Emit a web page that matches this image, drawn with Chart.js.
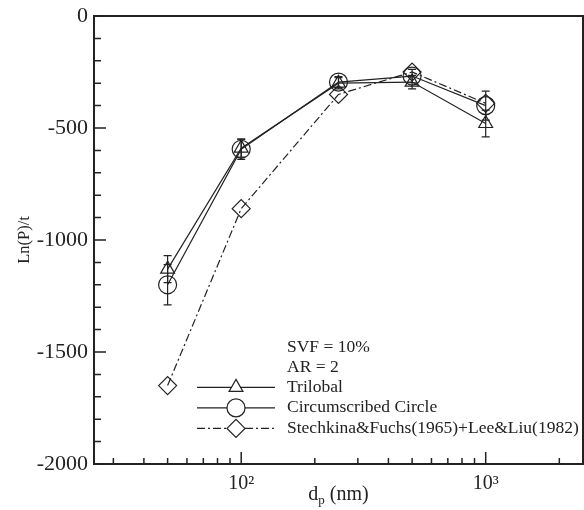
<!DOCTYPE html>
<html>
<head>
<meta charset="utf-8">
<script src="https://cdn.jsdelivr.net/npm/chart.js@4/dist/chart.umd.min.js"></script>
<style>
  html, body { margin: 0; padding: 0; background: #fff; }
  #wrap { width: 584px; height: 510px; }
</style>
</head>
<body>
<div id="wrap"><canvas id="filterChart"></canvas></div>
<script>
// particle diameter (nm)
const diameters = [50, 100, 250, 500, 1000];

// Ln(P)/t for each model
const trilobal = [-1130, -590, -300, -295, -480];
const trilobalErr = [60, 40, 25, 30, 60];
const circle = [-1200, -595, -295, -268, -400];
const circleErr = [90, 45, 25, 30, 65];
const stechkina = [-1650, -860, -350, -250, -390];

// axis ticks
const xTicks = [30, 40, 50, 60, 70, 80, 90, 100, 200, 300, 400, 500, 600, 700, 800, 900, 1000, 2000];
const xLabels = { 100: "10\u00B2", 1000: "10\u00B3" };
const yMinorTicks = [];
for (let v = -2000; v <= 0; v += 100) yMinorTicks.push(v);

const legendNotes = ["SVF = 10%", "AR = 2"];

const ink = "#222";
const serif = "'Liberation Serif', 'Times New Roman', serif";

const toPoints = vals => vals.map((v, i) => ({ x: diameters[i], y: v }));

// frame, inward ticks, error bars, legend and x title
const decorations = {
    id: "decorations",
    afterDatasetsDraw(chart) {
        const { ctx, chartArea: a, scales } = chart;
        const xs = scales.x, ys = scales.y;
        ctx.save();
        ctx.strokeStyle = ink;

        // error bars
        ctx.lineWidth = 1.2;
        chart.data.datasets.forEach(ds => {
            if (!ds.errors) return;
            ds.data.forEach((p, i) => {
                const px = xs.getPixelForValue(p.x);
                const top = ys.getPixelForValue(p.y + ds.errors[i]);
                const bot = ys.getPixelForValue(p.y - ds.errors[i]);
                ctx.beginPath();
                ctx.moveTo(px, top); ctx.lineTo(px, bot);
                ctx.moveTo(px - 4, top); ctx.lineTo(px + 4, top);
                ctx.moveTo(px - 4, bot); ctx.lineTo(px + 4, bot);
                ctx.stroke();
            });
        });

        // frame
        ctx.lineWidth = 2;
        ctx.strokeRect(a.left, a.top, a.right - a.left, a.bottom - a.top);

        // inward ticks
        ctx.lineWidth = 1.5;
        ctx.beginPath();
        xTicks.forEach(v => {
            const px = xs.getPixelForValue(v);
            const len = xLabels[v] ? 12 : 6;
            ctx.moveTo(px, a.bottom); ctx.lineTo(px, a.bottom - len);
        });
        yMinorTicks.forEach(v => {
            const py = ys.getPixelForValue(v);
            const len = v % 500 === 0 ? 12 : 7;
            ctx.moveTo(a.left, py); ctx.lineTo(a.left + len, py);
        });
        ctx.stroke();

        // legend
        ctx.fillStyle = ink;
        ctx.font = "17.5px " + serif;
        ctx.textBaseline = "middle";
        const textX = 287, lineX0 = 197, lineX1 = 275, markX = 236;
        let y = 347;
        legendNotes.forEach(t => { ctx.fillText(t, textX, y); y += 20.2; });
        chart.data.datasets.forEach(ds => {
            ctx.lineWidth = ds.borderWidth;
            ctx.setLineDash(ds.borderDash || []);
            ctx.beginPath();
            ctx.moveTo(lineX0, y); ctx.lineTo(lineX1, y);
            ctx.stroke();
            ctx.setLineDash([]);
            ctx.fillStyle = "#fff";
            Chart.helpers.drawPoint(ctx, {
                pointStyle: ds.pointStyle, radius: ds.pointRadius, rotation: 0, borderWidth: ds.borderWidth
            }, markX, y);
            ctx.fillStyle = ink;
            ctx.fillText(ds.label, textX, y);
            y += 20.5;
        });

        // x axis title with subscript
        ctx.textBaseline = "alphabetic";
        const big = "20px " + serif, small = "13px " + serif;
        const cx = (a.left + a.right) / 2;
        ctx.font = big;
        const w1 = ctx.measureText("d").width;
        const w3 = ctx.measureText(" (nm)").width;
        ctx.font = small;
        const w2 = ctx.measureText("p").width;
        const tx = cx - (w1 + w2 + w3) / 2;
        ctx.font = big;
        ctx.fillText("d", tx, 500);
        ctx.fillText(" (nm)", tx + w1 + w2, 500);
        ctx.font = small;
        ctx.fillText("p", tx + w1, 504);

        ctx.restore();
    }
};

const ctx = document.getElementById("filterChart").getContext("2d");
const filterChart = new Chart(ctx, {
    type: "line",
    data: {
        datasets: [
            {
                label: "Trilobal",
                data: toPoints(trilobal),
                errors: trilobalErr,
                borderColor: ink,
                borderWidth: 1.2,
                pointStyle: "triangle",
                pointRadius: 8,
                pointBorderColor: ink,
                pointBackgroundColor: "rgba(0,0,0,0)",
                pointBorderWidth: 1.2
            },
            {
                label: "Circumscribed Circle",
                data: toPoints(circle),
                errors: circleErr,
                borderColor: ink,
                borderWidth: 1.2,
                pointStyle: "circle",
                pointRadius: 9,
                pointBorderColor: ink,
                pointBackgroundColor: "rgba(0,0,0,0)",
                pointBorderWidth: 1.2
            },
            {
                label: "Stechkina&Fuchs(1965)+Lee&Liu(1982)",
                data: toPoints(stechkina),
                borderColor: ink,
                borderWidth: 1.2,
                borderDash: [8, 3, 2, 3],
                pointStyle: "rectRot",
                pointRadius: 9,
                pointBorderColor: ink,
                pointBackgroundColor: "rgba(0,0,0,0)",
                pointBorderWidth: 1.2
            }
        ]
    },
    options: {
        responsive: true,
        maintainAspectRatio: false,
        animation: false,
        layout: { autoPadding: false, padding: { top: 16, right: 1, left: 0, bottom: 0 } },
        plugins: { legend: { display: false }, tooltip: { enabled: false } },
        scales: {
            x: {
                type: "logarithmic",
                min: 25,
                max: 2500,
                grid: { display: false, drawTicks: false },
                border: { display: false },
                afterBuildTicks: scale => { scale.ticks = xTicks.map(v => ({ value: v })); },
                afterFit: scale => {
                    scale.height = 46;
                    scale.paddingLeft = 0;
                    scale.paddingRight = 0;
                },
                ticks: {
                    autoSkip: false,
                    maxRotation: 0,
                    padding: 8,
                    color: ink,
                    font: { family: serif, size: 20 },
                    callback: v => xLabels[v] || ""
                }
            },
            y: {
                min: -2000,
                max: 0,
                grid: { display: false, drawTicks: false },
                border: { display: false },
                afterFit: scale => {
                    scale.width = 94;
                    scale.paddingTop = 0;
                    scale.paddingBottom = 0;
                },
                ticks: {
                    stepSize: 500,
                    padding: 6,
                    color: ink,
                    font: { family: serif, size: 22 },
                    callback: v => String(v)
                },
                title: {
                    display: true,
                    text: "Ln(P)/t",
                    color: ink,
                    font: { family: serif, size: 16.5 },
                    padding: { top: 15, bottom: 0 }
                }
            }
        }
    },
    plugins: [decorations]
});
</script>
</body>
</html>
